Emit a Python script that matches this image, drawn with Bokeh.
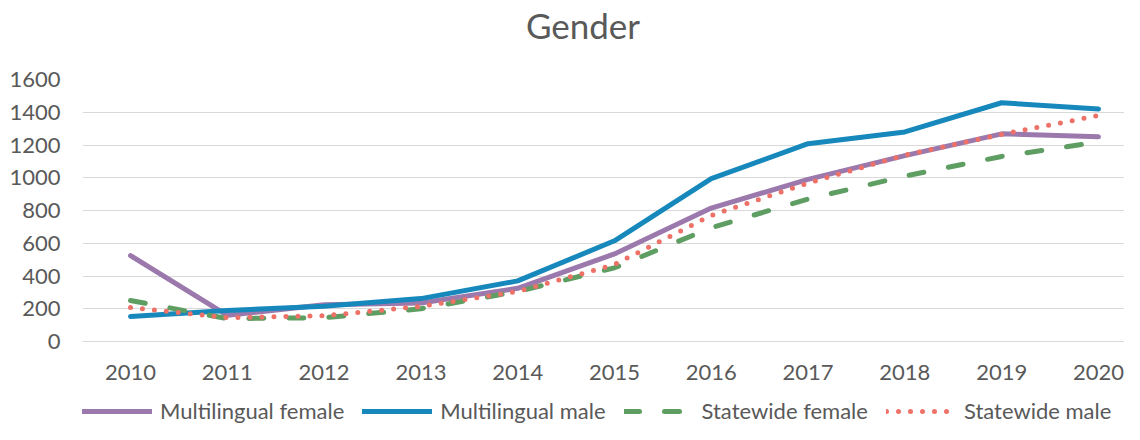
from bokeh.plotting import figure
from bokeh.models import Range1d, FixedTicker, Legend, LegendItem, Div
from bokeh.layouts import column
from bokeh.embed import file_html
from bokeh.resources import INLINE

years = [2010, 2011, 2012, 2013, 2014, 2015, 2016, 2017, 2018, 2019, 2020]
ml_female = [525, 160, 225, 235, 325, 535, 815, 990, 1135, 1268, 1250]
ml_male = [153, 190, 215, 262, 370, 615, 995, 1208, 1280, 1458, 1420]
sw_female = [250, 140, 145, 200, 305, 450, 695, 870, 1010, 1130, 1218]
sw_male = [208, 145, 157, 215, 305, 470, 770, 968, 1138, 1265, 1380]
y_ticks = [0, 200, 400, 600, 800, 1000, 1200, 1400, 1600]
series_names = ["Multilingual female", "Multilingual male", "Statewide female", "Statewide male"]

FONT = "Lato"
GREY = "#595959"
styles = [
    dict(line_color="#9C79AC", line_width=5, line_join="round", line_cap="round"),
    dict(line_color="#1688BC", line_width=5, line_join="round", line_cap="round"),
    dict(line_color="#5F9E62", line_width=5, line_join="round", line_cap="round", line_dash="15 25"),
    dict(line_color="#EE7168", line_width=5, line_join="round", line_cap="round", line_dash="0 12"),
]
series = [ml_female, ml_male, sw_female, sw_male]

title = Div(text="Gender", width=1124, height=50, margin=0,
            styles={"text-align": "center", "font-size": "35px", "font-family": "Lato",
                    "color": GREY, "line-height": "50px", "width": "1124px",
                    "padding-left": "42px", "box-sizing": "border-box"})

p = figure(width=1124, height=344, output_backend="svg", toolbar_location=None, title=None,
           x_range=Range1d(2009.504, 2020.269), y_range=Range1d(0, 1600),
           min_border_left=82, min_border_right=0, min_border_top=29, min_border_bottom=53)
p.outline_line_color = None
p.xgrid.grid_line_color = None
p.ygrid.grid_line_color = "#D9D9D9"
p.ygrid.grid_line_width = 1.2
p.yaxis.ticker = FixedTicker(ticks=y_ticks)
p.xaxis.ticker = FixedTicker(ticks=years)
for ax in (p.xaxis[0], p.yaxis[0]):
    ax.major_tick_line_color = None
    ax.minor_tick_line_color = None
    ax.major_label_text_font = FONT
    ax.major_label_text_font_size = "22px"
    ax.major_label_text_color = GREY
p.yaxis.axis_line_color = None
p.xaxis.axis_line_color = "#D9D9D9"
p.xaxis.axis_line_width = 1.2
p.xaxis.major_label_standoff = 17
p.yaxis.major_label_standoff = 16

for vals, st in zip(series, styles):
    p.line(years, vals, **st)

# legend strip below the chart (its lines lie outside its visible range)
pl = figure(width=1124, height=30, output_backend="svg", toolbar_location=None, title=None,
            x_range=Range1d(2009.504, 2020.269), y_range=Range1d(-2000, -1900),
            x_axis_type=None, y_axis_type=None,
            min_border_left=82, min_border_right=0, min_border_top=0, min_border_bottom=0)
pl.outline_line_color = None
pl.xgrid.grid_line_color = None
pl.ygrid.grid_line_color = None
items = []
for name, vals, st in zip(series_names, series, styles):
    r = pl.line(years, vals, **st)
    items.append(LegendItem(label=name, renderers=[r]))
legend = Legend(items=items, orientation="horizontal", location=(0, 0), padding=0, margin=0,
                spacing=18, glyph_width=70, glyph_height=20, label_standoff=8, label_height=20,
                label_text_font=FONT, label_text_font_size="22px", label_text_color=GREY,
                background_fill_alpha=0, border_line_color=None)
pl.add_layout(legend, "center")

layout = column(title, p, pl, spacing=0)
open("out.html", "w").write(file_html(layout, INLINE))
